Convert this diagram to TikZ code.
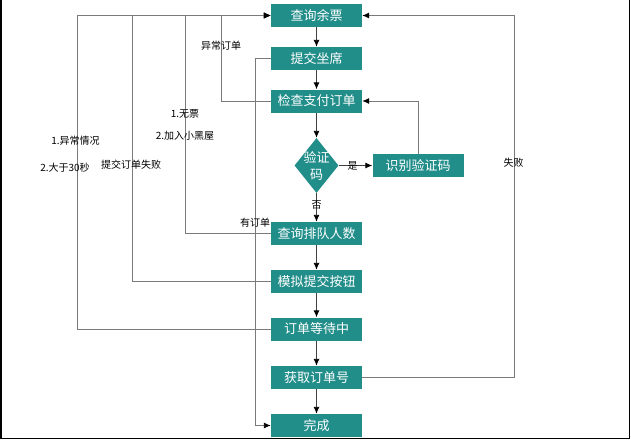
\documentclass[tikz,border=0pt]{standalone}
\usepackage{fontspec}
\newfontfamily\cjkfont{Noto Sans CJK SC}
\usetikzlibrary{arrows.meta,shapes.geometric}

\definecolor{boxteal}{HTML}{228E8A}
\definecolor{linegray}{HTML}{7A7A7A}

\tikzset{
  stepbox/.style={draw=none,fill=boxteal,rectangle,minimum width=91pt,minimum height=23pt,inner sep=0pt,
    text=white,font=\cjkfont\fontsize{13}{15}\selectfont},
  decision/.style={draw=none,fill=boxteal,diamond,minimum width=44pt,minimum height=55pt,inner sep=0pt},
  boxtext/.style={text=white,align=center,inner sep=0pt,font=\cjkfont\fontsize{13}{17}\selectfont},
  lbl/.style={inner sep=0pt,font=\cjkfont\fontsize{10}{12}\selectfont},
  mainflow/.style={draw=black!75,line width=0.9pt,-{Latex[length=7pt,width=6pt,color=black]}},
  backflow/.style={draw=linegray,line width=0.9pt,-{Latex[length=7pt,width=6pt,color=black]}},
}

\begin{document}
\begin{tikzpicture}[x=1pt,y=-1pt]
  \useasboundingbox (0,0) rectangle (631,439);
  % frame of the screenshot
  \draw[line width=1.5pt] (0.75,0) -- (0.75,438.25) -- (629.5,438.25) -- (629.5,0);

  % main column
  \node[stepbox] (query) at (316.5,15.5) {查询余票};
  \node[stepbox] (submit) at (316.5,58.5) {提交坐席};
  \node[stepbox] (check) at (316.5,101) {检查支付订单};
  \node[decision] (captcha) at (316.5,165.5) {};
  \node[boxtext] (captchatext) at (captcha) {验证\\码};
  \node[stepbox] (recog) at (418,165.5) {识别验证码};
  \node[stepbox] (queue) at (316.5,233.5) {查询排队人数};
  \node[stepbox] (click) at (316.5,281.5) {模拟提交按钮};
  \node[stepbox] (wait) at (316.5,329) {订单等待中};
  \node[stepbox] (getno) at (316.5,377.5) {获取订单号};
  \node[stepbox] (done) at (316.5,425.5) {完成};

  \draw[mainflow] (query) -- (submit);
  \draw[mainflow] (submit) -- (check);
  \draw[mainflow] (check) -- (captcha);
  \draw[mainflow] (captcha) -- (queue);
  \draw[mainflow] (captcha) -- (recog);
  \draw[mainflow] (queue) -- (click);
  \draw[mainflow] (click) -- (wait);
  \draw[mainflow] (wait) -- (getno);
  \draw[mainflow] (getno) -- (done);

  % turning points of the way back
  \coordinate (failturn) at (514,15.5);
  \coordinate (abnturn) at (221,15.5);
  \coordinate (queueturn) at (185,15.5);
  \coordinate (clickturn) at (132,15.5);
  \coordinate (waitturn) at (77,15.5);
  \coordinate (seatturn) at (255,425.5);

  \draw[backflow] (getno.east) -| (failturn) -- (query.east);
  \draw[backflow] (recog.north) |- (check.east);
  \draw[backflow] (check.west) -| (abnturn) -- (query.west);
  \draw[backflow] (queue.west) -| (queueturn) -- (query.west);
  \draw[backflow] (click.west) -| (clickturn) -- (query.west);
  \draw[backflow] (wait.west) -| (waitturn) -- (query.west);
  \draw[backflow] (submit.west) -| (seatturn) -- (done.west);

  % labels
  \node[lbl] (yeslbl) at (352.5,165.5) {是};
  \node[lbl] (nolbl) at (316.5,205) {否};
  \node[lbl] (faillbl) at (513.5,163) {失败};
  \node[lbl] (abnlbl) at (221,46) {异常订单};
  \node[lbl] (noticket) at (185,114) {1.无票};
  \node[lbl] (blacklist) at (185,136) {2.加入小黑屋};
  \node[lbl] (submitfail) at (131,165) {提交订单失败};
  \node[lbl] (haveorder) at (255,223) {有订单};
  \node[lbl] (abnormal) at (75.5,141) {1.异常情况};
  \node[lbl] (overtime) at (65,168) {2.大于30秒};
\end{tikzpicture}
\end{document}
